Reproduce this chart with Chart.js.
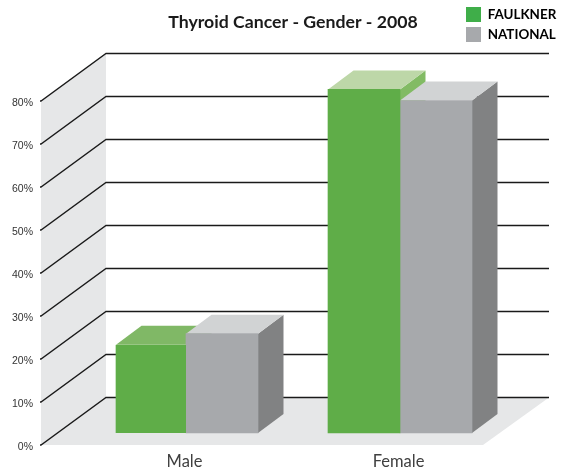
<!DOCTYPE html>
<html><head><meta charset="utf-8">
<script src="https://cdn.jsdelivr.net/npm/chart.js"></script>
<style>html,body{margin:0;padding:0;background:#fff}canvas{display:block}</style>
</head><body><canvas id="c" width="562" height="474"></canvas>
<script>
const categories = ['Male', 'Female'];
const faulkner = [20.5, 79.9];
const national = [23.1, 77.3];
const seriesNames = ['FAULKNER', 'NATIONAL'];
const legendColors = ['#3fae49', '#a7a9ac'];
const frontColors = ['#5fad48', '#a7a9ac'];
const topColors = [['#80b866', '#bdd7a8'], ['#d1d3d4', '#d1d3d4']];
const sideColors = [['#82bb64', '#82bb64'], ['#818283', '#818283']];
const WALL = '#e6e7e8', LINE = '#1a1a1a';
const BAR_LIFT = 12, BAR_DX = 25.5, BAR_DY = -19;
const WALL_LEFT = 41, BACK_LEFT = 106, BACK_RIGHT = 549, FLOOR_RIGHT = 483, BACK_DY = -47.5;

function poly(ctx, pts, fill) {
  ctx.beginPath();
  pts.forEach((p, i) => i ? ctx.lineTo(p[0], p[1]) : ctx.moveTo(p[0], p[1]));
  ctx.closePath(); ctx.fillStyle = fill; ctx.fill();
}
const scene = {
  id: 'scene',
  afterLayout(chart) {
    const t = chart.titleBlock; t.left = 168; t.right = 418; t.top = 12; t.bottom = 32;
    const l = chart.legend; l.left = 461; l.right = 562; l.top = 2; l.bottom = 50;
  },
  beforeDatasetsDraw(chart) {
    const ctx = chart.ctx, y = chart.scales.y;
    const y0 = y.getPixelForValue(0), yTop = y.getPixelForValue(y.max);
    ctx.save();
    poly(ctx, [[WALL_LEFT, yTop], [BACK_LEFT, yTop + BACK_DY], [BACK_LEFT, y0 + BACK_DY], [WALL_LEFT, y0]], WALL);
    poly(ctx, [[WALL_LEFT, y0], [BACK_LEFT, y0 + BACK_DY], [BACK_RIGHT, y0 + BACK_DY], [FLOOR_RIGHT, y0]], WALL);
    ctx.strokeStyle = LINE; ctx.lineWidth = 1.3;
    y.ticks.forEach(tk => {
      const p = y.getPixelForValue(tk.value);
      ctx.beginPath();
      ctx.moveTo(WALL_LEFT - 1, p); ctx.lineTo(WALL_LEFT, p);
      ctx.lineTo(BACK_LEFT, p + BACK_DY); ctx.lineTo(BACK_RIGHT, p + BACK_DY);
      ctx.stroke();
    });
    // extrusions: series in order, so the later series hides the earlier one
    chart.data.datasets.forEach((ds, d) => {
      chart.getDatasetMeta(d).data.forEach((bar, i) => {
        const { x, y: by, base, width } = bar.getProps(['x', 'y', 'base', 'width'], true);
        const l = x - width / 2 + (d === 0 && i === 0 ? 2 : 0), r = x + width / 2;
        const tp = by - BAR_LIFT, bt = base - BAR_LIFT;
        poly(ctx, [[r, tp], [r + BAR_DX, tp + BAR_DY], [r + BAR_DX, bt + BAR_DY], [r, bt]], sideColors[d][i]);
        poly(ctx, [[l, tp], [l + BAR_DX, tp + BAR_DY], [r + BAR_DX, tp + BAR_DY], [r, tp]], topColors[d][i]);
      });
    });
    ctx.restore();
    ctx.save();
    ctx.translate(0, -BAR_LIFT);
  },
  afterDatasetsDraw(chart) { chart.ctx.restore(); }
};

new Chart(document.getElementById('c'), {
  type: 'bar',
  plugins: [scene],
  data: {
    labels: categories,
    datasets: [faulkner, national].map((values, d) => ({
      label: seriesNames[d],
      data: values,
      backgroundColor: frontColors[d],
      borderColor: 'rgba(0,0,0,0)',
      borderWidth: ctx => (d === 0 && ctx.dataIndex === 0) ? { left: 2 } : 0,
      borderSkipped: false,
      barThickness: 72,
      clip: false
    }))
  },
  options: {
    responsive: false,
    animation: false,
    layout: { padding: { top: 81, right: 55, left: 0, bottom: 0 } },
    plugins: {
      tooltip: { enabled: false },
      title: {
        display: true,
        text: 'Thyroid Cancer - Gender - 2008',
        padding: 0,
        color: '#1a1a1a',
        font: { family: 'Lato', weight: '700', size: 17.7, lineHeight: '20px' }
      },
      legend: {
        position: 'chartArea',
        align: 'start',
        labels: {
          boxWidth: 15, boxHeight: 15, padding: 5,
          color: '#1a1a1a',
          font: { family: 'Lato', weight: '700', size: 13.4 },
          generateLabels: () => seriesNames.map((n, i) => ({ text: n, fillStyle: legendColors[i], strokeStyle: legendColors[i], lineWidth: 0, datasetIndex: i }))
        }
      }
    },
    scales: {
      x: {
        grid: { display: false, drawTicks: false },
        border: { display: false },
        ticks: { padding: 7, labelOffset: -1.5, color: '#404040', font: { family: 'Lato', size: 16.5 }, maxRotation: 0 },
        afterFit: s => { s.height = 29; s.paddingBottom = 0; s.paddingTop = 0; }
      },
      y: {
        min: 0, max: 80,
        grid: { display: false, drawTicks: false },
        border: { display: false },
        ticks: { stepSize: 10, padding: 46, labelOffset: 2, color: '#333', font: { family: 'Liberation Sans', size: 10.5 }, callback: v => v + '%' },
        afterFit: s => { s.width = 79; s.paddingBottom = 0; s.paddingTop = 0; }
      }
    }
  }
});
</script></body></html>
